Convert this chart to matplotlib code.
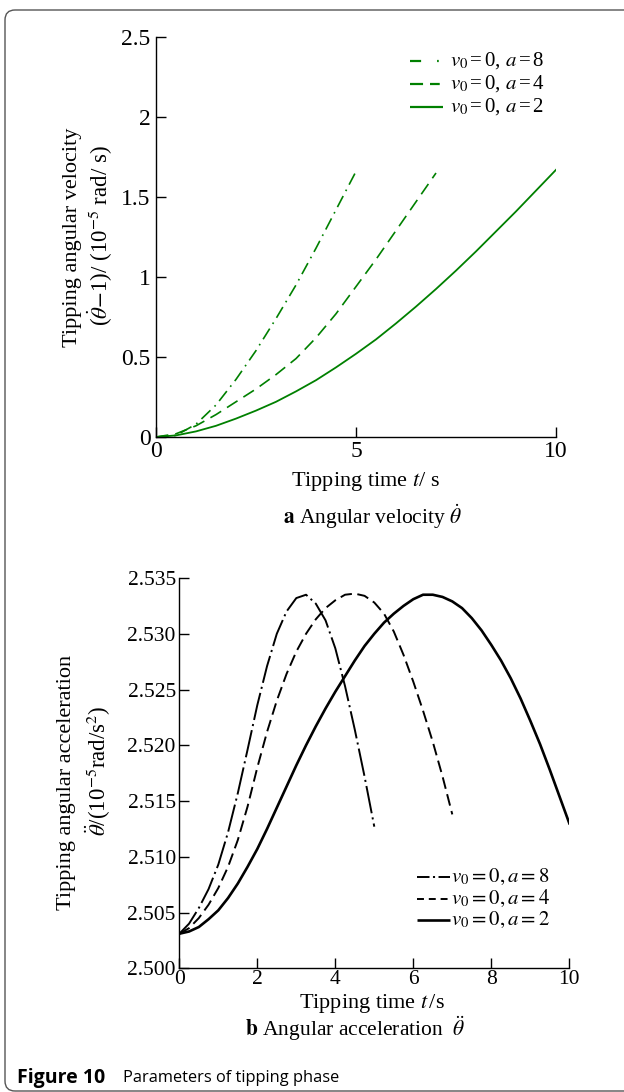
import matplotlib
matplotlib.use("Agg")
import matplotlib.pyplot as plt
from matplotlib.lines import Line2D
from matplotlib.patches import FancyBboxPatch

# ---------------- data ----------------
# (a) angular velocity (theta_dot - 1), 1e-5 rad/s
t_v_a8 = [0, 0.5, 1, 1.5, 2, 2.5, 3, 3.5, 4, 4.5, 5]
v_a8 = [0, 0.01, 0.08, 0.20, 0.36, 0.54, 0.74, 0.95, 1.18, 1.42, 1.66]
t_v_a4 = [0, 0.5, 1, 1.5, 2, 2.5, 3, 3.5, 4, 4.5, 5, 5.5, 6, 6.5, 7]
v_a4 = [0, 0.02, 0.07, 0.14, 0.22, 0.30, 0.39, 0.49, 0.62, 0.77, 0.94, 1.11, 1.29, 1.47, 1.65]
t_v_a2 = [0, 0.5, 1, 1.5, 2, 2.5, 3, 3.5, 4, 4.5, 5, 5.5, 6, 6.5, 7, 7.5, 8, 8.5, 9, 9.5, 10]
v_a2 = [0, 0.01, 0.035, 0.07, 0.115, 0.165, 0.22, 0.285, 0.355, 0.435, 0.52, 0.61, 0.71,
        0.815, 0.925, 1.04, 1.16, 1.285, 1.41, 1.54, 1.67]

# (b) angular acceleration, 1e-5 rad/s^2
t_c_a8 = [0, 0.25, 0.5, 0.75, 1, 1.25, 1.5, 1.75, 2, 2.25, 2.5, 2.75, 3, 3.25, 3.5,
          3.75, 4, 4.25, 4.5, 4.75, 5]
c_a8 = [2.5031, 2.5040, 2.5054, 2.5071, 2.5093, 2.5122, 2.5157, 2.5196, 2.5236, 2.5271,
        2.5300, 2.5320, 2.5332, 2.5335, 2.5327, 2.5312, 2.5287, 2.5253, 2.5214, 2.5172, 2.5127]
t_c_a4 = [0, 0.25, 0.5, 0.75, 1, 1.25, 1.5, 1.75, 2, 2.25, 2.5, 2.75, 3, 3.25, 3.5,
          3.75, 4, 4.25, 4.5, 4.75, 5, 5.25, 5.5, 5.75, 6, 6.25, 6.5, 6.75, 7]
c_a4 = [2.5031, 2.5036, 2.5045, 2.5057, 2.5072, 2.5091, 2.5115, 2.5145, 2.5180, 2.5212,
        2.5240, 2.5264, 2.5284, 2.5300, 2.5313, 2.5323, 2.5330, 2.5335, 2.5336, 2.5334,
        2.5328, 2.5318, 2.5302, 2.5281, 2.5257, 2.5231, 2.5203, 2.5172, 2.5138]
t_c_a2 = [0, 0.25, 0.5, 0.75, 1, 1.25, 1.5, 1.75, 2, 2.25, 2.5, 2.75, 3, 3.25, 3.5,
          3.75, 4, 4.25, 4.5, 4.75, 5, 5.25, 5.5, 5.75, 6, 6.25, 6.5, 6.75, 7, 7.25,
          7.5, 7.75, 8, 8.25, 8.5, 8.75, 9, 9.25, 9.5, 9.75, 10]
c_a2 = [2.5031, 2.5033, 2.5037, 2.5044, 2.5052, 2.5063, 2.5076, 2.5091, 2.5107, 2.5125,
        2.5144, 2.5163, 2.5182, 2.5200, 2.5217, 2.5233, 2.5248, 2.5262, 2.5276, 2.5289,
        2.5300, 2.5310, 2.5318, 2.5325, 2.5331, 2.5335, 2.5335, 2.5333, 2.5329, 2.5323,
        2.5314, 2.5303, 2.5290, 2.5276, 2.5260, 2.5242, 2.5222, 2.5201, 2.5178, 2.5154, 2.5130]

labels_top = [r"$v_0\,$=$\,$0, $a\,$=$\,$8", r"$v_0\,$=$\,$0, $a\,$=$\,$4", r"$v_0\,$=$\,$0, $a\,$=$\,$2"]
labels_bot = [r"$v_0=0,a=8$", r"$v_0=0,a=4$", r"$v_0=0,a=2$"]

yticks_top = [0, 0.5, 1, 1.5, 2, 2.5]
yticklabels_top = ["0", "0.5", "1", "1.5", "2", "2.5"]
xticks_top = [0, 5, 10]
yticks_bot = [2.500, 2.505, 2.510, 2.515, 2.520, 2.525, 2.530, 2.535]
yticklabels_bot = ["2.500", "2.505", "2.510", "2.515", "2.520", "2.525", "2.530", "2.535"]
xticks_bot = [0, 2, 4, 6, 8, 10]

# ---------------- style ----------------
plt.rcParams["font.family"] = ["Liberation Serif", "DejaVu Serif"]
plt.rcParams["mathtext.fontset"] = "stix"
plt.rcParams["lines.scale_dashes"] = False

W, H = 624, 1092
fig = plt.figure(figsize=(W / 100, H / 100), dpi=100)

def px_rect(x0, y_top, x1, y_bot):
    return [x0 / W, 1 - y_bot / H, (x1 - x0) / W, (y_bot - y_top) / H]

def fx(x):
    return x / W

def fy(y):
    return 1 - y / H

GREEN = "#008000"

def style_axes(ax, labelsize):
    for s in ("top", "right"):
        ax.spines[s].set_visible(False)
    for s in ("left", "bottom"):
        ax.spines[s].set_linewidth(1.0)
    ax.tick_params(direction="in", length=7, width=1.0, labelsize=labelsize,
                   top=False, right=False)

def legend_row(x0, x1, y, text, xt, size, color, lw, dashes=None):
    ln = Line2D([fx(x0), fx(x1)], [fy(y), fy(y)], transform=fig.transFigure,
                color=color, lw=lw, solid_capstyle="butt", dash_capstyle="butt")
    if dashes is not None:
        ln.set_dashes(dashes)
    fig.add_artist(ln)
    fig.text(fx(xt), fy(y + 5), text, ha="left", va="baseline", fontsize=size)

# ---------------- (a) ----------------
ax1 = fig.add_axes(px_rect(156, 37, 556, 437))
style_axes(ax1, 17)
ax1.plot(t_v_a8, v_a8, color=GREEN, lw=1.2, dashes=(9, 4, 1.2, 4))
ax1.plot(t_v_a4, v_a4, color=GREEN, lw=1.2, dashes=(9, 5))
ax1.plot(t_v_a2, v_a2, color=GREEN, lw=1.3)
ax1.set_xlim(0, 10)
ax1.set_ylim(0, 2.5)
ax1.set_yticks(yticks_top)
ax1.set_yticklabels(yticklabels_top)
ax1.set_xticks(xticks_top)
ax1.tick_params(axis="y", pad=4)
ax1.tick_params(axis="x", pad=3)

legend_row(410, 443, 61, labels_top[0], 450, 15, GREEN, 1.6, (8, 11.5, 1.2, 30))
legend_row(410, 443, 84, labels_top[1], 450, 15, GREEN, 1.6, (9.4, 5, 7, 10))
legend_row(410, 443, 107, labels_top[2], 450, 15, GREEN, 1.6)

fig.text(fx(365), fy(486), r"Tipping time $t$/ s", ha="center", va="baseline", fontsize=16)
fig.text(fx(73), fy(237), "Tipping angular velocity", rotation=90,
         ha="center", va="center", fontsize=16)
fig.text(fx(100), fy(236), r"($\dot{\theta}$$-$1)/ (10$^{-5}$ rad/ s)", rotation=90,
         ha="center", va="center", fontsize=16.5)
fig.text(fx(373), fy(524), r"$\mathbf{a}$ Angular velocity $\dot{\theta}$",
         ha="center", va="baseline", fontsize=15.5)

# ---------------- (b) ----------------
ax2 = fig.add_axes(px_rect(179.3, 578, 569.3, 968.3))
style_axes(ax2, 15.5)
ax2.plot(t_c_a8, c_a8, color="black", lw=1.4, dashes=(20, 3, 1.5, 3))
ax2.plot(t_c_a4, c_a4, color="black", lw=1.4, dashes=(8.5, 4))
ax2.plot(t_c_a2, c_a2, color="black", lw=1.9)
ax2.set_xlim(0, 10)
ax2.set_ylim(2.500, 2.535)
ax2.set_yticks(yticks_bot)
ax2.set_yticklabels(yticklabels_bot)
ax2.set_xticks(xticks_bot)
ax2.tick_params(axis="y", pad=2.5)
ax2.tick_params(axis="x", pad=1)

legend_row(417, 450, 877, labels_bot[0], 451, 15, "black", 1.4, (9, 2.5, 1.5, 2.5))
legend_row(417, 450, 899, labels_bot[1], 451, 15, "black", 1.4, (5, 3.5))
legend_row(417, 450, 920, labels_bot[2], 451, 15, "black", 1.9)

fig.text(fx(372), fy(1008), r"Tipping time $t\,$/s", ha="center", va="baseline", fontsize=16)
fig.text(fx(66), fy(782), "Tipping angular acceleration", rotation=90,
         ha="center", va="center", fontsize=16)
fig.text(fx(98), fy(771), r"$\ddot{\theta}$/(10$^{-5}$rad/s$^2$)", rotation=90,
         ha="center", va="center", fontsize=16.5)
fig.text(fx(355), fy(1036), r"$\mathbf{b}$ Angular acceleration  $\ddot{\theta}$",
         ha="center", va="baseline", fontsize=15.5)

# ---------------- frame & caption ----------------
box = FancyBboxPatch((fx(5), fy(1091)), 1.05, fy(10) - fy(1091),
                     boxstyle="round,pad=0,rounding_size=0.016",
                     transform=fig.transFigure, fill=False, edgecolor="#555555",
                     linewidth=1.0, mutation_aspect=W / H, clip_on=False)
fig.add_artist(box)

fig.text(fx(17), fy(1078), "Figure 10", family=["Open Sans", "DejaVu Sans"],
         fontweight="bold", fontsize=14, ha="left", va="center")
fig.text(fx(123), fy(1078), "Parameters of tipping phase", family=["Open Sans", "DejaVu Sans"],
         fontsize=11.8, ha="left", va="center")

fig.savefig("out.png", dpi=100)
